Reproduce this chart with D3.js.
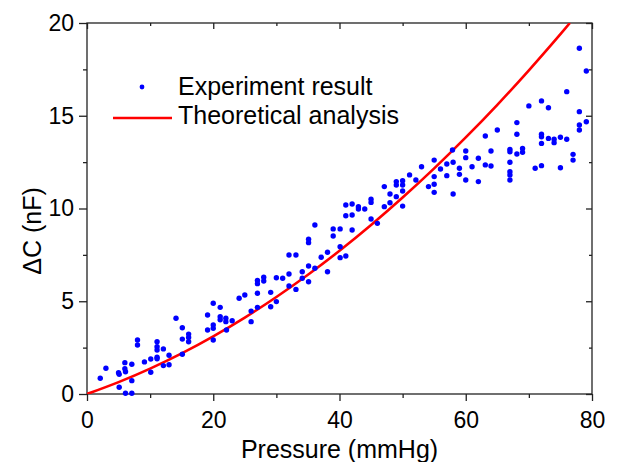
<!DOCTYPE html>
<html>
<head>
<meta charset="utf-8">
<script src="https://cdn.jsdelivr.net/npm/d3@7"></script>
<style>
  body { margin: 0; background: #fff; }
  text { font-family: "Liberation Sans", Arial, sans-serif; fill: #000; }
</style>
</head>
<body>
<svg></svg>
<script>
// Setting
const width = 618;
const height = 462;
const margin = {top: 23, right: 26, bottom: 68, left: 87};

// experiment result: pressure (mmHg) and delta C (nF)
const expPressure = [
  2.1, 3.0, 5.0, 5.1, 5.1, 6.0, 6.0, 6.1, 6.1, 7.1, 7.1, 7.1, 8.0, 8.0, 9.1, 10.1, 10.1,
  11.1, 11.1, 11.1, 11.1, 11.1, 12.1, 12.1, 13.0, 13.0, 14.1, 15.1, 15.1, 15.1, 16.1, 16.1, 16.1,
  19.1, 19.1, 20.0, 20.0, 20.0, 20.0, 21.1, 21.1, 21.1, 22.0, 22.0, 22.1, 23.0, 24.1, 25.0,
  26.0, 26.0, 27.0, 27.0, 27.0, 27.0,
  28.0, 28.0, 29.1, 29.1, 30.0, 30.0, 31.0, 32.0, 32.0, 32.0, 33.1, 33.1, 34.1, 34.1,
  35.1, 35.1, 35.1, 35.1, 36.1, 36.1, 37.1, 38.1, 38.1, 39.0, 39.0, 40.1, 40.1, 40.1,
  41.0, 41.0, 41.0, 42.0, 42.0, 42.0, 43.0, 43.0, 44.0, 45.0, 45.0, 45.0, 46.0,
  47.1, 47.1, 48.0, 48.0, 49.0, 49.0, 49.0, 50.0, 50.0, 50.0, 50.0, 51.1, 52.1,
  53.0, 54.1, 55.0, 55.0, 55.0, 55.0, 56.0, 57.0, 57.0, 57.9, 58.0, 58.0, 59.0, 59.0,
  60.0, 60.0, 60.0, 61.0, 62.0, 62.0, 63.1, 63.1, 64.0, 64.0, 65.0,
  67.0, 67.0, 67.0, 67.0, 67.0, 67.0, 68.1, 68.1, 68.1, 69.0, 69.0, 70.0, 71.0,
  72.0, 72.0, 72.0, 72.0, 72.0, 73.1, 73.1, 74.0, 74.0, 75.0, 75.0, 76.0, 76.0,
  77.0, 77.0, 78.0, 78.0, 78.0, 78.0, 79.1, 79.1
];
const expCapacitance = [
  0.85, 1.39, 1.15, 1.06, 0.36, 1.69, 1.36, 1.2, 0.04, 1.6, 0.72, 0.04, 2.91, 2.64, 1.73, 1.89, 1.17,
  2.82, 2.55, 2.37, 1.98, 1.9, 2.43, 1.53, 2.09, 1.58, 4.08, 3.57, 2.96, 2.14, 3.23, 3.05, 2.82,
  4.26, 3.45, 4.89, 3.72, 3.54, 2.91, 4.67, 4.17, 4.0, 4.08, 3.9, 3.45, 3.95, 5.16, 5.34,
  4.47, 3.9, 6.12, 5.95, 5.43, 4.67,
  6.29, 6.09, 5.48, 4.7, 6.27, 4.98, 6.24, 7.49, 6.47, 5.82, 7.49, 5.64, 6.59, 6.24,
  6.9, 6.05, 8.34, 8.16, 9.11, 6.78, 7.37, 7.64, 6.59, 8.9, 8.52, 8.9, 7.94, 7.35,
  7.44, 10.19, 9.61, 10.24, 9.65, 8.84, 10.1, 9.97, 9.97, 10.5, 10.33, 9.43, 9.2,
  11.18, 10.1, 10.78, 10.31, 11.45, 11.27, 10.64, 11.5, 11.27, 10.94, 10.13, 11.81, 11.54,
  12.25, 11.18, 12.61, 11.72, 11.31, 10.87, 12.13, 12.4, 11.77, 13.15, 12.49, 10.78, 12.17, 11.84,
  13.1, 12.74, 11.54, 12.25, 12.71, 11.45, 13.91, 12.35, 13.1, 12.29, 14.23,
  13.19, 13.06, 12.49, 11.98, 11.81, 11.54, 14.63, 14.0, 12.94, 13.24, 13.03, 15.53, 12.17,
  15.8, 14.0, 13.87, 13.51, 12.31, 15.43, 13.78, 13.73, 13.55, 13.84, 12.2, 16.3, 13.73,
  12.92, 12.61, 18.64, 15.22, 14.5, 14.23, 17.41, 14.68
];

// theoretical analysis curve
const theoryPressure = [0, 5, 10, 15, 20, 25, 30, 35, 40, 45, 50, 55, 60, 65, 70, 75, 76.5];
const theoryCapacitance = [0, 0.64, 1.37, 2.19, 3.11, 4.12, 5.23, 6.43, 7.72, 9.11, 10.59, 12.16, 13.83, 15.59, 17.45, 19.4, 20];

const xTicks = [0, 20, 40, 60, 80];
const xMinor = [10, 30, 50, 70];
const yTicks = [0, 5, 10, 15, 20];
const yMinor = [2.5, 7.5, 12.5, 17.5];

const svg = d3.select("svg")
  .attr("width", width)
  .attr("height", height);

const x = d3.scaleLinear().domain([0, 80]).range([margin.left, width - margin.right]);
const y = d3.scaleLinear().domain([0, 20]).range([height - margin.bottom, margin.top]);

const tickFont = 23;
const labelFont = 25;

// frame
svg.append("rect")
  .attr("x", x(0)).attr("y", y(20))
  .attr("width", x(80) - x(0)).attr("height", y(0) - y(20))
  .attr("fill", "none").attr("stroke", "#222").attr("stroke-width", 1.3);

// bottom axis, ticks outward
svg.append("g").attr("transform", `translate(0,${y(0)})`)
  .call(d3.axisBottom(x).tickValues(xTicks).tickSize(7).tickPadding(11).tickFormat(d3.format("d")));
svg.append("g").attr("transform", `translate(0,${y(0)})`)
  .call(d3.axisBottom(x).tickValues(xMinor).tickSize(4).tickFormat(""));

// left axis, ticks outward
svg.append("g").attr("transform", `translate(${x(0)},0)`)
  .call(d3.axisLeft(y).tickValues(yTicks).tickSize(8).tickPadding(5).tickFormat(d3.format("d")));
svg.append("g").attr("transform", `translate(${x(0)},0)`)
  .call(d3.axisLeft(y).tickValues(yMinor).tickSize(4).tickFormat(""));

// top mirror ticks pointing in
svg.append("g").attr("transform", `translate(0,${y(20)})`)
  .call(d3.axisBottom(x).tickValues(xTicks).tickSize(6).tickFormat(""));
svg.append("g").attr("transform", `translate(0,${y(20)})`)
  .call(d3.axisBottom(x).tickValues(xMinor).tickSize(3).tickFormat(""));

// right mirror ticks pointing in
svg.append("g").attr("transform", `translate(${x(80)},0)`)
  .call(d3.axisLeft(y).tickValues(yTicks).tickSize(6).tickFormat(""));
svg.append("g").attr("transform", `translate(${x(80)},0)`)
  .call(d3.axisLeft(y).tickValues(yMinor).tickSize(3).tickFormat(""));

svg.selectAll(".domain").remove();
svg.selectAll(".tick line").attr("stroke", "#222").attr("stroke-width", 1.3);
svg.selectAll(".tick text")
  .style("font-size", tickFont + "px")
  .style("font-family", "'Liberation Sans', Arial, sans-serif")
  .attr("fill", "#000");

// axis titles
svg.append("text")
  .attr("x", x(40)).attr("y", 458)
  .attr("text-anchor", "middle")
  .style("font-size", labelFont + "px")
  .text("Pressure (mmHg)");

svg.append("text")
  .attr("transform", `translate(41,231) rotate(-90)`)
  .attr("text-anchor", "middle")
  .style("font-size", labelFont + "px")
  .text("ΔC (nF)");

// clip for the plot area
svg.append("clipPath").attr("id", "plot")
  .append("rect")
  .attr("x", x(0)).attr("y", y(20))
  .attr("width", x(80) - x(0)).attr("height", y(0) - y(20));

// theory line
const line = d3.line()
  .x((d, i) => x(theoryPressure[i]))
  .y((d, i) => y(theoryCapacitance[i]))
  .curve(d3.curveMonotoneX);

svg.append("path")
  .datum(theoryPressure)
  .attr("clip-path", "url(#plot)")
  .attr("d", line)
  .attr("fill", "none")
  .attr("stroke", "#ff0000")
  .attr("stroke-width", 2.6);

// experiment dots
svg.append("g")
  .selectAll("circle")
  .data(expPressure)
  .enter()
  .append("circle")
  .attr("cx", (d) => x(d))
  .attr("cy", (d, i) => y(expCapacitance[i]))
  .attr("r", 2.7)
  .attr("fill", "#0000ff");

// legend
const legend = svg.append("g");
legend.append("circle")
  .attr("cx", 142).attr("cy", 87).attr("r", 2.4).attr("fill", "#0000ff");
legend.append("text")
  .attr("x", 178).attr("y", 95)
  .style("font-size", labelFont + "px")
  .text("Experiment result");
legend.append("line")
  .attr("x1", 113).attr("x2", 172).attr("y1", 118).attr("y2", 118)
  .attr("stroke", "#ff0000").attr("stroke-width", 2.6);
legend.append("text")
  .attr("x", 178).attr("y", 124)
  .style("font-size", labelFont + "px")
  .text("Theoretical analysis");
</script>
</body>
</html>
